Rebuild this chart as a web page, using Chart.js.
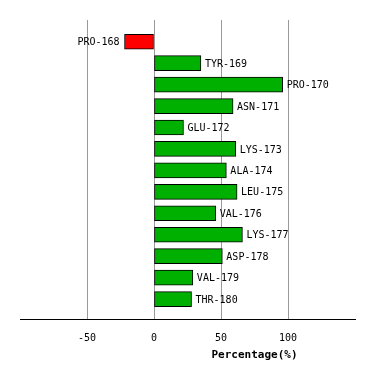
<!DOCTYPE html>
<html>
<head>
<meta charset="utf-8">
<script src="https://cdn.jsdelivr.net/npm/chart.js@4"></script>
<style>
  html, body { margin: 0; padding: 0; background: #fff; }
  #wrap { width: 374px; height: 380px; }
</style>
</head>
<body>
<div id="wrap"><canvas id="chart"></canvas></div>
<script>
const residues = ['PRO-168', 'TYR-169', 'PRO-170', 'ASN-171', 'GLU-172', 'LYS-173', 'ALA-174',
  'LEU-175', 'VAL-176', 'LYS-177', 'ASP-178', 'VAL-179', 'THR-180'];
const percentages = [-22, 35, 96, 59, 22, 61, 54, 62, 46, 66, 51, 29, 28];
const xTicks = [-50, 0, 50, 100];

const FONT = '"DejaVu Sans Mono", "Liberation Mono", monospace';

// residue names at the end of each bar, plus the axis title
const barLabels = {
  id: 'barLabels',
  afterDatasetsDraw(chart) {
    const ctx = chart.ctx;
    const meta = chart.getDatasetMeta(0);
    ctx.save();
    ctx.font = '10px ' + FONT;
    ctx.fillStyle = '#000';
    ctx.textBaseline = 'middle';
    meta.data.forEach((bar, i) => {
      if (percentages[i] >= 0) {
        ctx.textAlign = 'left';
        ctx.fillText(residues[i], bar.x + 4, bar.y + 1);
      } else {
        ctx.textAlign = 'right';
        ctx.fillText(residues[i], bar.x - 5, bar.y + 1);
      }
    });
    const xs = chart.scales.x;
    ctx.font = 'bold 11px ' + FONT;
    ctx.textAlign = 'center';
    ctx.fillText('Percentage(%)', xs.getPixelForValue(75), 355);
    ctx.restore();
  }
};

new Chart(document.getElementById('chart'), {
  type: 'bar',
  data: {
    datasets: [{
      data: percentages.map((v, i) => ({ x: v, y: i })),
      backgroundColor: percentages.map(v => v < 0 ? '#ff0000' : '#00b000'),
      borderColor: '#000',
      borderWidth: 1,
      borderSkipped: false,
      barThickness: 15
    }]
  },
  options: {
    indexAxis: 'y',
    responsive: true,
    maintainAspectRatio: false,
    animation: false,
    layout: { padding: { left: 20, right: 19, top: 20, bottom: 23 } },
    plugins: { legend: { display: false }, tooltip: { enabled: false } },
    scales: {
      x: {
        type: 'linear',
        min: -100,
        max: 150,
        afterBuildTicks: axis => { axis.ticks = xTicks.map(v => ({ value: v })); },
        grid: { color: '#999', lineWidth: 1, drawTicks: false },
        border: { color: '#000', width: 1 },
        ticks: { color: '#000', padding: 13, font: { family: FONT, size: 10 } }
      },
      y: {
        type: 'linear',
        display: false,
        offset: false,
        reverse: true,
        min: -1.013,
        max: 12.93
      }
    }
  },
  plugins: [barLabels]
});
</script>
</body>
</html>
